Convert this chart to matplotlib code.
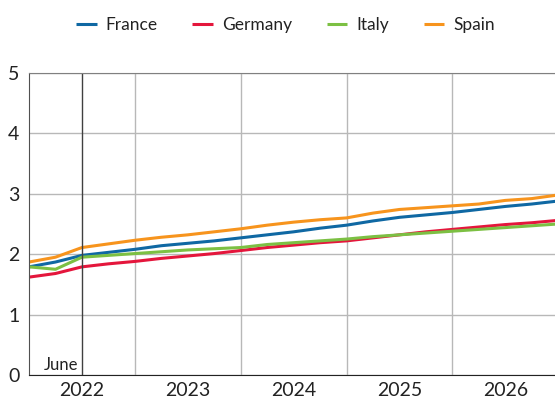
import matplotlib.pyplot as plt
import numpy as np

plt.rcParams['font.family'] = ['Lato', 'DejaVu Sans']

# quarterly points, 2022Q1 .. 2027Q1
quarters = np.arange(21) * 0.25 + 2022.0
years = [2022, 2023, 2024, 2025, 2026]

france = [1.79, 1.87, 1.98, 2.03, 2.08, 2.14, 2.18, 2.22, 2.27, 2.32, 2.37,
          2.43, 2.48, 2.55, 2.61, 2.65, 2.69, 2.74, 2.79, 2.83, 2.88]
germany = [1.62, 1.68, 1.79, 1.84, 1.88, 1.93, 1.97, 2.01, 2.06, 2.11, 2.15,
           2.19, 2.22, 2.27, 2.32, 2.37, 2.41, 2.45, 2.49, 2.52, 2.56]
italy = [1.79, 1.75, 1.95, 1.98, 2.01, 2.04, 2.07, 2.09, 2.11, 2.16, 2.19,
         2.22, 2.25, 2.29, 2.32, 2.35, 2.38, 2.41, 2.44, 2.47, 2.50]
spain = [1.87, 1.95, 2.11, 2.17, 2.23, 2.28, 2.32, 2.37, 2.42, 2.48, 2.53,
         2.57, 2.60, 2.68, 2.74, 2.77, 2.80, 2.83, 2.89, 2.92, 2.98]

series = [('France', france, '#0f68a3'),
          ('Germany', germany, '#e4163c'),
          ('Italy', italy, '#7cc043'),
          ('Spain', spain, '#f7941d')]

fig = plt.figure(figsize=(5.55, 4.03), dpi=100)
ax = fig.add_axes([0.0523, 0.0695, 0.9477, 0.7495])

for name, vals, col in series:
    ax.plot(quarters, vals, color=col, lw=2.2, label=name, solid_capstyle='butt')

ax.set_xlim(2022.0, 2026.97)
ax.set_ylim(0, 5)

# year boundaries as grid, labels at mid-year
ax.set_xticks([2023, 2024, 2025, 2026])
ax.set_xticklabels([])
ax.set_xticks([y + 0.5 for y in years], minor=True)
ax.set_xticklabels([str(y) for y in years], minor=True, fontsize=14, color='#222222')
ax.tick_params(axis='x', which='both', length=0, pad=5)

ax.set_yticks(range(6))
ax.set_yticklabels([str(i) for i in range(6)], fontsize=14, color='#222222')
ax.tick_params(axis='y', length=0, pad=7)

ax.grid(True, which='major', color='#b8b8b8', lw=1)
ax.set_axisbelow(True)

ax.axvline(2022.5, color='#404040', lw=1)
ax.text(2022.47, 0.04, 'June', ha='right', va='bottom', fontsize=12, color='#222222')

ax.spines['right'].set_visible(False)
ax.spines['top'].set_color('#808080')
ax.spines['left'].set_color('#505050')
ax.spines['bottom'].set_color('#222222')

fig.legend(loc='center', bbox_to_anchor=(0.514, 0.937), ncol=4, frameon=False,
           fontsize=12.5, handlelength=1.2, handletextpad=0.5, columnspacing=2.0,
           labelcolor='#222222')

fig.savefig('out.png', dpi=100)
